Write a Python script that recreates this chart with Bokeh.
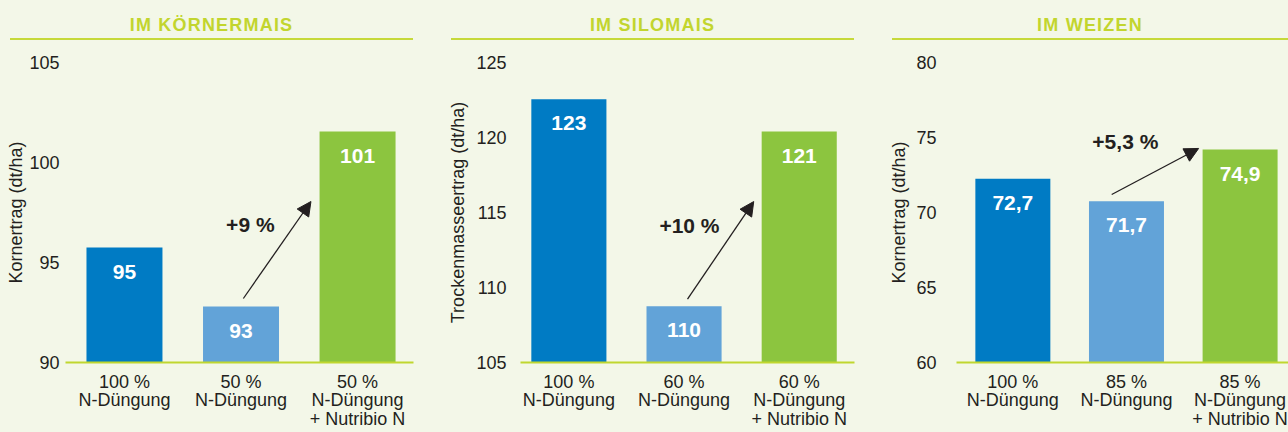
from bokeh.plotting import figure
from bokeh.models import (FixedTicker, Arrow, NormalHead, Div, ColumnDataSource,
                          Range1d, GlobalInlineStyleSheet)
from bokeh.layouts import row, column
from bokeh.core.properties import value
from bokeh.embed import file_html
from bokeh.resources import INLINE

# ---------------- data ----------------
panel_titles = ["IM KÖRNERMAIS", "IM SILOMAIS", "IM WEIZEN"]
y_titles = ["Kornertrag (dt/ha)", "Trockenmasseertrag (dt/ha)", "Kornertrag (dt/ha)"]

cats_koernermais = ["100 %\nN-Düngung", "50 %\nN-Düngung", "50 %\nN-Düngung\n+ Nutribio N"]
cats_silomais = ["100 %\nN-Düngung", "60 %\nN-Düngung", "60 %\nN-Düngung\n+ Nutribio N"]
cats_weizen = ["100 %\nN-Düngung", "85 %\nN-Düngung", "85 %\nN-Düngung\n+ Nutribio N"]

values_koernermais = [95.75, 92.8, 101.55]
values_silomais = [122.55, 108.75, 120.4]
values_weizen = [72.25, 70.75, 74.2]

labels_koernermais = ["95", "93", "101"]
labels_silomais = ["123", "110", "121"]
labels_weizen = ["72,7", "71,7", "74,9"]

increase_labels = ["+9 %", "+10 %", "+5,3 %"]

y_ranges = [(90, 105), (105, 125), (60, 80)]
tick_step = 5

# ---------------- style / layout ----------------
FONT = "Liberation Sans"
BG = "#f3f7e8"
DARK = "#231f20"
BAR_COLORS = ["#007bc4", "#62a3d8", "#8cc53f"]
TITLE_COLOR = "#c2d52e"
LINE_COLOR = "#c6d93a"
BASE_COLOR = "#c0d72f"

layout_cfg = [
    dict(W=445, mbl=65, mbr=32, xr=(-0.506, 2.48), bw=0.652, div_ml=10, div_w=403, mls=0, als=0,
         tail=(1.02, 0.4), tip=(1.6, 98.05), txt=(1.08, 96.9)),
    dict(W=441, mbl=71, mbr=32, xr=(-0.42, 2.48), bw=0.652, div_ml=6, div_w=403, mls=8, als=5,
         tail=(1.03, 0.47), tip=(1.605, 115.73), txt=(1.047, 114.13)),
    dict(W=402, mbl=66, mbr=0, xr=(-0.496, 2.426), bw=0.66, div_ml=6, div_w=396, mls=14, als=4,
         tail=(0.87, 0.45), tip=(1.635, 74.27), txt=(0.99, 74.73)),
]

all_cats = [cats_koernermais, cats_silomais, cats_weizen]
all_vals = [values_koernermais, values_silomais, values_weizen]
all_labs = [labels_koernermais, labels_silomais, labels_weizen]


def make_panel(i):
    cfg = layout_cfg[i]
    y0, y1 = y_ranges[i]
    vals = all_vals[i]
    xs = list(range(len(vals)))

    title_html = (
        f'<div style="box-sizing:border-box;width:{cfg["div_w"]}px;height:40px;padding-top:15px;'
        f'line-height:20px;text-align:center;'
        f'border-bottom:2px solid {LINE_COLOR};font-family:\'{FONT}\',Arial,sans-serif;'
        f'font-weight:bold;font-size:18px;letter-spacing:1.2px;color:{TITLE_COLOR};'
        f'white-space:nowrap;overflow:hidden;">{panel_titles[i]}</div>'
    )
    div = Div(text=title_html, width=cfg["div_w"], height=40, margin=(0, 0, 0, cfg["div_ml"]))

    p = figure(width=cfg["W"], height=392, x_range=Range1d(*cfg["xr"]), y_range=Range1d(y0, y1),
               output_backend="svg", toolbar_location=None,
               min_border_left=cfg["mbl"], min_border_right=cfg["mbr"],
               min_border_top=22, min_border_bottom=70)
    p.background_fill_color = BG
    p.border_fill_color = BG
    p.outline_line_color = None
    p.xgrid.visible = False
    p.ygrid.visible = False

    src = ColumnDataSource(dict(x=xs, top=vals, label=all_labs[i], color=BAR_COLORS))
    p.vbar(x="x", top="top", bottom=y0, width=cfg["bw"], fill_color="color", line_color=None, source=src)
    p.text(x="x", y="top", text="label", y_offset=24, text_align="center", text_baseline="middle",
           text_color="white", text_font=value(FONT), text_font_size="21px",
           text_font_style="bold", source=src)

    # arrow from second bar to third bar
    tx, tdy = cfg["tail"]
    hx, hy = cfg["tip"]
    p.add_layout(Arrow(end=NormalHead(size=14, fill_color=DARK, line_color=DARK, line_width=1),
                       x_start=tx, y_start=vals[1] + tdy, x_end=hx, y_end=hy,
                       line_color=DARK, line_width=1.3))
    p.text(x=[cfg["txt"][0]], y=[cfg["txt"][1]], text=[increase_labels[i]], text_align="center",
           text_baseline="middle", text_color=DARK, text_font=value(FONT), text_font_size="21px",
           text_font_style="bold")

    # y axis
    ya = p.yaxis[0]
    ya.ticker = FixedTicker(ticks=list(range(y0, y1 + 1, tick_step)))
    ya.axis_label = y_titles[i]
    ya.axis_label_text_font = FONT
    ya.axis_label_text_font_style = "normal"
    ya.axis_label_text_font_size = "18px"
    ya.axis_label_text_color = DARK
    ya.axis_label_standoff = cfg["als"]
    ya.major_label_text_font = FONT
    ya.major_label_text_font_size = "18px"
    ya.major_label_text_color = DARK
    ya.major_label_standoff = cfg["mls"]
    ya.axis_line_color = None
    ya.major_tick_line_color = None
    ya.minor_tick_line_color = None

    # x axis
    xa = p.xaxis[0]
    xa.ticker = FixedTicker(ticks=xs)
    xa.major_label_overrides = {k: all_cats[i][k] for k in xs}
    xa.major_label_text_font = FONT
    xa.major_label_text_font_size = "18px"
    xa.major_label_text_color = DARK
    xa.major_label_text_line_height = 0.945
    xa.major_label_standoff = 3
    xa.axis_line_color = BASE_COLOR
    xa.axis_line_width = 2
    xa.major_tick_line_color = None
    xa.minor_tick_line_color = None

    return column(div, p, spacing=0)


layout = row(*[make_panel(i) for i in range(3)], spacing=0)
layout.stylesheets = [GlobalInlineStyleSheet(css=f"html, body {{ background: {BG}; }}")]

open("out.html", "w").write(file_html(layout, INLINE))
